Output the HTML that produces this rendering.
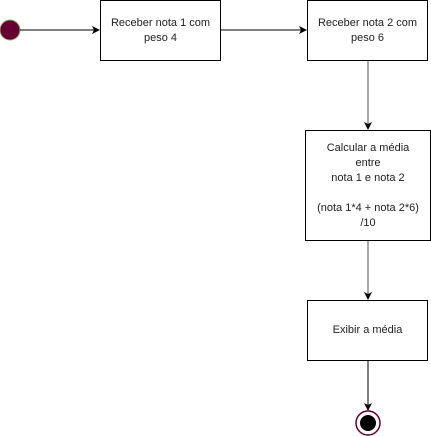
<!DOCTYPE html>
<html><head><style>
body{margin:0;background:#fff;width:431px;height:436px;position:relative;overflow:hidden;font-family:"Liberation Sans",sans-serif;font-size:11px;color:#222}
.b{position:absolute;box-sizing:border-box;border:1px solid #000;background:#fff;display:flex;align-items:center;justify-content:center;text-align:center;line-height:15px}
svg{position:absolute;left:0;top:0}
</style></head><body>
<svg width="431" height="436" viewBox="0 0 431 436">
<circle cx="10" cy="30" r="10" fill="#660033" stroke="#82b366" stroke-width="1"/>
<line x1="20" y1="30" x2="94" y2="30" stroke="#000" stroke-width="1"/>
<polygon points="100,30 92,26 94,30 92,34" fill="#000"/>
<line x1="221" y1="30" x2="301" y2="30" stroke="#000" stroke-width="1"/>
<polygon points="307,30 299,26 301,30 299,34" fill="#000"/>
<line x1="368" y1="61" x2="368" y2="124" stroke="#555" stroke-width="1"/>
<polygon points="368,130 364,122 368,124 372,122" fill="#000"/>
<line x1="368" y1="240" x2="368" y2="294" stroke="#555" stroke-width="1"/>
<polygon points="368,300 364,292 368,294 372,292" fill="#000"/>
<line x1="368" y1="361" x2="368" y2="405" stroke="#000" stroke-width="1"/>
<polygon points="368,411 364,403 368,405 372,403" fill="#000"/>
<circle cx="368" cy="423" r="12" fill="#fff" stroke="#660033" stroke-width="1.5"/>
<circle cx="368" cy="423" r="8" fill="#000"/>
</svg>
<div class="b" style="left:100px;top:0;width:121px;height:61px">Receber nota 1 com<br>peso 4</div>
<div class="b" style="left:307px;top:0;width:121px;height:61px">Receber nota 2 com<br>peso 6</div>
<div class="b" style="left:305px;top:130px;width:126px;height:111px">Calcular a média<br>entre<br>nota 1 e nota 2<br><br>(nota 1*4 + nota 2*6)<br>/10</div>
<div class="b" style="left:307px;top:300px;width:121px;height:61px">Exibir a média</div>
</body></html>
